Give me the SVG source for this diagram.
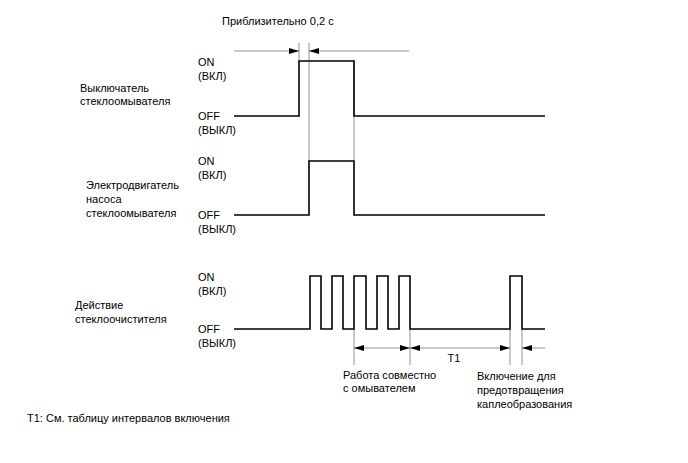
<svg xmlns="http://www.w3.org/2000/svg" width="688" height="463" viewBox="0 0 688 463">
<defs>
<style>
text{font-family:"Liberation Sans",Arial,sans-serif;font-size:11px;fill:#000}
.sig{fill:none;stroke:#000;stroke-width:1.6}
.thin{fill:none;stroke:#777;stroke-width:0.8}
.dim{fill:none;stroke:#777;stroke-width:0.8}
</style>
<marker id="ah" viewBox="0 0 10 6" refX="10" refY="3" markerWidth="10" markerHeight="6" markerUnits="userSpaceOnUse" orient="auto">
<path d="M0,0 L10,3 L0,6 Z" fill="#000"/>
</marker>
</defs>
<rect width="688" height="463" fill="#fff"/>
<g id="connectors">
<line class="thin" x1="299" y1="43" x2="299" y2="60"/>
<line class="thin" x1="309" y1="43" x2="309" y2="161"/>
<line class="thin" x1="354" y1="60" x2="354" y2="161"/>
<line class="dim" x1="234" y1="51" x2="299" y2="51" marker-end="url(#ah)"/>
<line class="dim" x1="409" y1="51" x2="309" y2="51" marker-end="url(#ah)"/>
<line class="thin" x1="354" y1="329" x2="354" y2="365"/>
<line class="thin" x1="410" y1="329" x2="410" y2="365"/>
<line class="thin" x1="510" y1="329" x2="510" y2="365"/>
<line class="thin" x1="522" y1="329" x2="522" y2="365"/>
<line class="dim" x1="382" y1="348" x2="354" y2="348" marker-end="url(#ah)"/>
<line class="dim" x1="382" y1="348" x2="410" y2="348" marker-end="url(#ah)"/>
<line class="dim" x1="460" y1="348" x2="410" y2="348" marker-end="url(#ah)"/>
<line class="dim" x1="460" y1="348" x2="510" y2="348" marker-end="url(#ah)"/>
<line class="dim" x1="545" y1="348" x2="522" y2="348" marker-end="url(#ah)"/>
</g>
<g id="title"><text x="222" y="25">Приблизительно 0,2 с</text></g>
<g id="switch">
<text x="80" y="92">Выключатель</text>
<text x="80" y="105">стеклоомывателя</text>
<text x="198" y="66">ON</text>
<text x="198" y="80">(ВКЛ)</text>
<text x="198" y="120">OFF</text>
<text x="198" y="134">(ВЫКЛ)</text>
<polyline class="sig" points="234,116 299,116 299,61 354,61 354,116 545,116"/>
</g>
<g id="pump">
<text x="86" y="189">Электродвигатель</text>
<text x="86" y="203">насоса</text>
<text x="86" y="217">стеклоомывателя</text>
<text x="198" y="165">ON</text>
<text x="198" y="179">(ВКЛ)</text>
<text x="198" y="219">OFF</text>
<text x="198" y="233">(ВЫКЛ)</text>
<polyline class="sig" points="234,215 309,215 309,161 354,161 354,215 545,215"/>
</g>
<g id="wiper">
<text x="75" y="309">Действие</text>
<text x="75" y="323">стеклоочистителя</text>
<text x="198" y="281">ON</text>
<text x="198" y="295">(ВКЛ)</text>
<text x="198" y="333">OFF</text>
<text x="198" y="347">(ВЫКЛ)</text>
<polyline class="sig" points="234,329 310,329 310,276 321,276 321,329 332,329 332,276 343,276 343,329 354,329 354,276 366,276 366,329 377,329 377,276 388,276 388,329 399,329 399,276 410,276 410,329 510,329 510,276 522,276 522,329 545,329"/>
</g>
<g id="labels">
<text x="454" y="362" text-anchor="middle">T1</text>
<text x="343" y="379">Работа совместно</text>
<text x="343" y="392">с омывателем</text>
<text x="477" y="380">Включение для</text>
<text x="477" y="394">предотвращения</text>
<text x="477" y="408">каплеобразования</text>
<text x="27" y="422">T1: См. таблицу интервалов включения</text>
</g>
</svg>
